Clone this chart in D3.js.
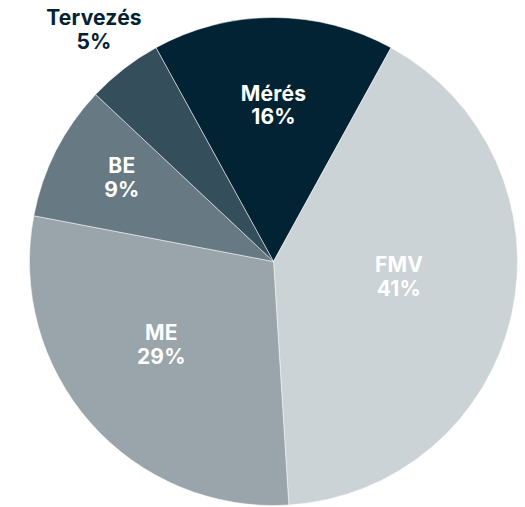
<!DOCTYPE html>
<html>
<head>
<meta charset="utf-8">
<script src="https://cdn.jsdelivr.net/npm/d3@7"></script>
<style>
  html, body { margin: 0; padding: 0; background: #fff; }
  svg text { font-family: Inter, 'Noto Sans', sans-serif; font-weight: 700; letter-spacing: 0.2px; }
</style>
</head>
<body>
<div id="chart"></div>
<script>
const labels = ['Mérés', 'FMV', 'ME', 'BE', 'Tervezés'];
const values = [16, 41, 29, 9, 5];
const colors = ['#022333', '#cbd3d6', '#99a5aa', '#677a83', '#344f5b'];
const outside = [false, false, false, false, true];

const w = 525;
const h = 507;
const radius = 244;
const cx = 273.5;
const cy = 261.5;

const total = d3.sum(values);
const data = labels.map((label, i) => ({ label, value: values[i], color: colors[i], outside: outside[i] }));

// first slice centred on 12 o'clock
const start = -Math.PI * values[0] / total;
const pie = d3.pie()
  .sort(null)
  .value(d => d.value)
  .startAngle(start)
  .endAngle(start + 2 * Math.PI);

const arc = d3.arc().innerRadius(0).outerRadius(radius);

const svg = d3.select('#chart')
  .append('svg')
  .attr('width', w)
  .attr('height', h)
  .append('g')
  .attr('transform', 'translate(' + cx + ',' + cy + ')');

const slices = pie(data);

svg.selectAll('path')
  .data(slices)
  .enter()
  .append('path')
  .attr('d', arc)
  .attr('fill', d => d.data.color)
  .attr('stroke', '#fff')
  .attr('stroke-width', 0.5);

// label position: roughly the centroid of the sector, small ones go outside
function labelPos(d) {
  const mid = (d.startAngle + d.endAngle) / 2;
  const half = (d.endAngle - d.startAngle) / 2;
  if (d.data.outside) {
    const dist = radius * 1.2;
    return [Math.sin(mid) * dist, -Math.cos(mid) * dist];
  }
  const dist = (2 / 3) * radius * Math.sin(half) / half;
  const lift = 11 * Math.sqrt(Math.abs(Math.sin(mid)));
  return [Math.sin(mid) * dist * 1.06, -Math.cos(mid) * dist - lift];
}

const lbl = svg.selectAll('.lbl')
  .data(slices)
  .enter()
  .append('text')
  .attr('class', 'lbl')
  .attr('text-anchor', 'middle')
  .attr('font-size', 21)
  .attr('fill', d => d.data.outside ? '#022333' : '#fff')
  .attr('transform', d => 'translate(' + labelPos(d) + ')');

lbl.append('tspan')
  .attr('x', 0)
  .attr('y', -5)
  .text(d => d.data.label);

lbl.append('tspan')
  .attr('x', 0)
  .attr('y', 18.5)
  .text(d => Math.round(d.data.value / total * 100) + '%');
</script>
</body>
</html>
